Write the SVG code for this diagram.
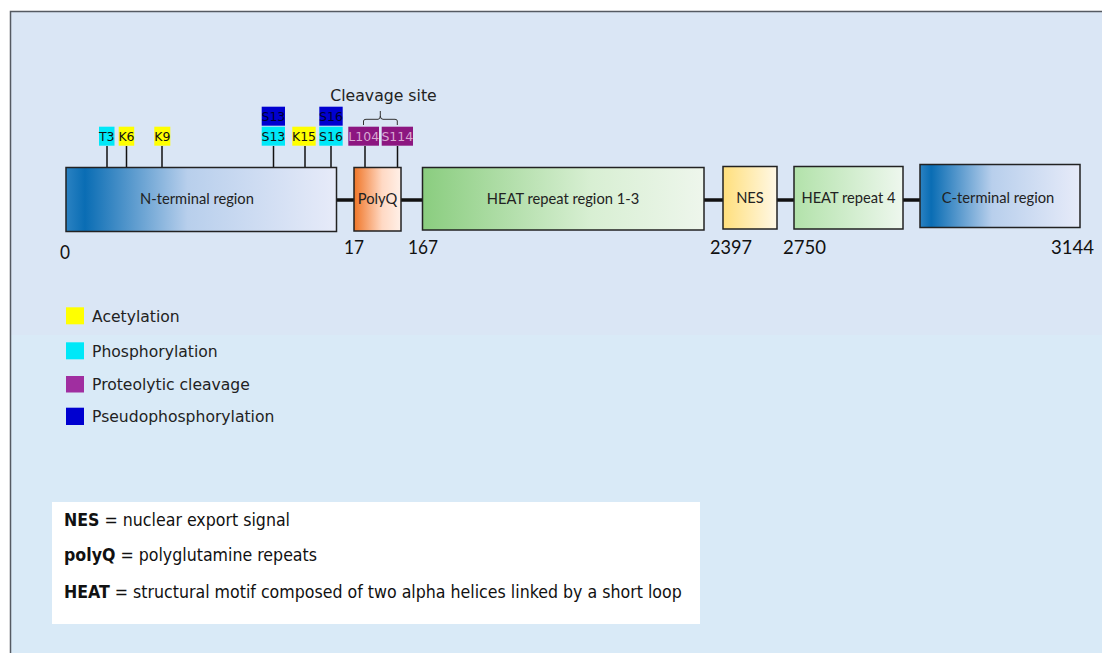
<svg xmlns="http://www.w3.org/2000/svg" width="1102" height="653" viewBox="0 0 1102 653">
<defs>
<linearGradient id="gTerm" x1="0" y1="0" x2="1" y2="0">
<stop offset="0" stop-color="#2b82c2"/><stop offset="0.07" stop-color="#0a6db4"/><stop offset="0.45" stop-color="#b8cfec"/><stop offset="1" stop-color="#e7ebf9"/>
</linearGradient>
<linearGradient id="gPolyQ" x1="0" y1="0" x2="1" y2="0">
<stop offset="0" stop-color="#f07628"/><stop offset="0.6" stop-color="#ffd9c4"/><stop offset="1" stop-color="#fff0e8"/>
</linearGradient>
<linearGradient id="gHeat" x1="0" y1="0" x2="1" y2="0">
<stop offset="0" stop-color="#8acd7f"/><stop offset="0.6" stop-color="#d8efd3"/><stop offset="1" stop-color="#eef6ec"/>
</linearGradient>
<linearGradient id="gHeat4" x1="0" y1="0" x2="1" y2="0">
<stop offset="0" stop-color="#b2e2aa"/><stop offset="1" stop-color="#eef7ee"/>
</linearGradient>
<linearGradient id="gNes" x1="0" y1="0" x2="1" y2="0">
<stop offset="0" stop-color="#ffdf7c"/><stop offset="1" stop-color="#fff8e6"/>
</linearGradient>
<style>
.box{stroke:#222;stroke-width:1.5}
.blabel{font-family:Lato,"Liberation Sans",sans-serif;font-size:14.7px;fill:#222;text-anchor:middle}
.num{font-family:Lato,"Liberation Sans",sans-serif;font-size:20px;fill:#111}
.tag{font-family:"DejaVu Sans",Verdana,sans-serif;font-size:12.5px;text-anchor:middle}
.stem{stroke:#111;stroke-width:1.5}
.link{stroke:#111;stroke-width:3.5}
.leg{font-family:"DejaVu Sans",Verdana,sans-serif;font-size:15.6px;fill:#222}
.note{font-family:"DejaVu Sans Condensed","DejaVu Sans",sans-serif;font-size:17.6px;fill:#111}
.yel{fill:#ffff00}.cya{fill:#00e8f8}.pur{fill:#8c1680}.blu{fill:#0000d0}
</style>
</defs>
<rect x="0" y="0" width="1102" height="653" fill="#ffffff"/>
<rect x="10.5" y="11.5" width="1092" height="642" fill="#d9eaf7"/>
<rect x="10.5" y="11.5" width="1092" height="323.5" fill="#dae6f5"/>
<path d="M10.5 653 V11.5 H1102" fill="none" stroke="#555a62" stroke-width="1.5"/>

<g id="connectors">
<line class="link" x1="336" y1="200" x2="354" y2="200"/>
<line class="link" x1="401" y1="200" x2="423" y2="200"/>
<line class="link" x1="704" y1="200" x2="723" y2="200"/>
<line class="link" x1="777" y1="200" x2="794" y2="200"/>
<line class="link" x1="903" y1="200" x2="920" y2="200"/>
<line class="stem" x1="107" y1="146" x2="107" y2="167"/>
<line class="stem" x1="126.5" y1="146" x2="126.5" y2="167"/>
<line class="stem" x1="162" y1="146" x2="162" y2="167"/>
<line class="stem" x1="273.5" y1="146" x2="273.5" y2="167"/>
<line class="stem" x1="305" y1="146" x2="305" y2="167"/>
<line class="stem" x1="331" y1="146" x2="331" y2="167"/>
<line class="stem" x1="365" y1="146" x2="365" y2="168"/>
<line class="stem" x1="397.5" y1="146" x2="397.5" y2="168"/>
<path d="M363.5 125 V121 Q363.5 119.3 366 119.3 H378 Q380.3 119.3 380.3 116 V111 M380.3 116 Q380.3 119.3 383 119.3 H395 Q397.3 119.3 397.3 121 V125" fill="none" stroke="#333" stroke-width="1"/>
</g>

<g id="n-terminal">
<rect class="box" x="66" y="167.5" width="270.5" height="64" fill="url(#gTerm)"/>
<text class="blabel" x="197" y="204">N-terminal region</text>
</g>
<g id="polyq">
<rect class="box" x="354" y="167.5" width="47" height="63.5" fill="url(#gPolyQ)"/>
<text class="blabel" x="377.5" y="204">PolyQ</text>
</g>
<g id="heat13">
<rect class="box" x="422.5" y="167.5" width="281.5" height="62.5" fill="url(#gHeat)"/>
<text class="blabel" x="563" y="204">HEAT repeat region 1-3</text>
</g>
<g id="nes">
<rect class="box" x="723" y="166.5" width="54" height="62.5" fill="url(#gNes)"/>
<text class="blabel" x="750" y="203">NES</text>
</g>
<g id="heat4">
<rect class="box" x="794" y="166.5" width="109" height="62.5" fill="url(#gHeat4)"/>
<text class="blabel" x="848.5" y="203">HEAT repeat 4</text>
</g>
<g id="c-terminal">
<rect class="box" x="920" y="164.5" width="160" height="63" fill="url(#gTerm)"/>
<text class="blabel" x="998" y="203">C-terminal region</text>
</g>

<g id="numbers">
<text class="num" x="60" y="259" textLength="10" lengthAdjust="spacingAndGlyphs">0</text>
<text class="num" x="344" y="254" textLength="20" lengthAdjust="spacingAndGlyphs">17</text>
<text class="num" x="408" y="254" textLength="30" lengthAdjust="spacingAndGlyphs">167</text>
<text class="num" x="710" y="254" textLength="42" lengthAdjust="spacingAndGlyphs">2397</text>
<text class="num" x="783" y="254" textLength="43" lengthAdjust="spacingAndGlyphs">2750</text>
<text class="num" x="1051" y="254" textLength="43" lengthAdjust="spacingAndGlyphs">3144</text>
</g>

<g id="sites">
<rect class="cya" x="99" y="126.7" width="15.5" height="19"/><text class="tag" x="106.7" y="141" fill="#111">T3</text>
<rect class="yel" x="118.7" y="126.7" width="15.5" height="19"/><text class="tag" x="126.5" y="141" fill="#111">K6</text>
<rect class="yel" x="154.3" y="126.7" width="16" height="19"/><text class="tag" x="162.3" y="141" fill="#111">K9</text>
<rect class="blu" x="261.7" y="106.7" width="23.3" height="19"/><text class="tag" x="273.4" y="121" fill="#000030">S13</text>
<rect class="cya" x="261.7" y="126.7" width="23.3" height="19"/><text class="tag" x="273.4" y="141" fill="#111">S13</text>
<rect class="yel" x="292.3" y="126.7" width="23.4" height="19"/><text class="tag" x="304" y="141" fill="#111">K15</text>
<rect class="blu" x="319.3" y="106.7" width="23.4" height="19"/><text class="tag" x="331" y="121" fill="#000030">S16</text>
<rect class="cya" x="319.3" y="126.7" width="23.4" height="19"/><text class="tag" x="331" y="141" fill="#111">S16</text>
<rect class="pur" x="348.3" y="126.7" width="30.7" height="19"/><text class="tag" x="363.7" y="141" fill="#d8a8d2">L104</text>
<rect class="pur" x="381.7" y="126.7" width="31.3" height="19"/><text class="tag" x="397.3" y="141" fill="#d8a8d2">S114</text>
<text x="383.5" y="100.5" font-family="DejaVu Sans,Verdana,sans-serif" font-size="15.7" fill="#222" text-anchor="middle">Cleavage site</text>
</g>

<g id="legend">
<rect class="yel" x="66" y="307.3" width="18" height="17"/><text class="leg" x="92" y="322">Acetylation</text>
<rect class="cya" x="66" y="342.3" width="18" height="17"/><text class="leg" x="92" y="357">Phosphorylation</text>
<rect x="66" y="376" width="18" height="16.5" fill="#a02ea0"/><text class="leg" x="92" y="390">Proteolytic cleavage</text>
<rect class="blu" x="66" y="407.7" width="18" height="17.3"/><text class="leg" x="92" y="422">Pseudophosphorylation</text>
</g>

<g id="notes">
<rect x="52" y="502" width="648" height="122" fill="#ffffff"/>
<text class="note" x="64" y="526"><tspan font-weight="bold">NES</tspan> = nuclear export signal</text>
<text class="note" x="64" y="561"><tspan font-weight="bold">polyQ</tspan> = polyglutamine repeats</text>
<text class="note" x="64" y="598"><tspan font-weight="bold">HEAT</tspan> = structural motif composed of two alpha helices linked by a short loop</text>
</g>
</svg>
